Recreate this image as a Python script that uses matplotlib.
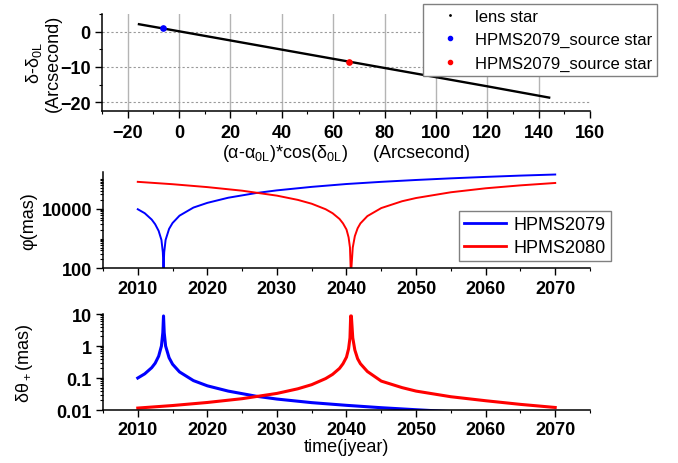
import matplotlib
matplotlib.use("Agg")
import matplotlib.pyplot as plt
import numpy as np
from matplotlib.lines import Line2D
from matplotlib.ticker import MultipleLocator, FixedLocator, FuncFormatter, NullFormatter

plt.rcParams['font.family'] = ['Liberation Sans', 'DejaVu Sans']
plt.rcParams['font.weight'] = 'bold'
plt.rcParams['mathtext.fontset'] = 'custom'
plt.rcParams['mathtext.rm'] = 'Liberation Sans:weight=normal'
plt.rcParams['mathtext.it'] = 'Liberation Sans:italic:weight=normal'
plt.rcParams['mathtext.bf'] = 'Liberation Sans:weight=bold'

# sky track of the lens star (arcsec) and source star positions
lens_x = [-15.6, 0.0, 20.0, 40.0, 60.0, 80.0, 100.0, 120.0, 144.1]
lens_y = [2.1, 0.1, -2.5, -5.1, -7.7, -10.3, -12.9, -15.5, -18.7]
src2079_x, src2079_y = [-6.4], [1.1]
src2080_x, src2080_y = [66.1], [-8.5]

# angular separation phi (mas) vs time
t_2079 = [2010, 2011, 2012, 2012.5, 2013, 2013.4, 2013.6, 2013.7, 2013.8, 2014.0,
          2014.5, 2015, 2016, 2018, 2020, 2023, 2027, 2030, 2035, 2040, 2045,
          2050, 2055, 2060, 2065, 2070]
phi_2079 = [9500, 7000, 4300, 3000, 1800, 900, 350, 100, 350, 900,
            2100, 3300, 5800, 10800, 15500, 23000, 33000, 40500, 53000, 66000, 78000,
            90000, 102000, 114000, 126000, 137000]

t_2080 = [2010, 2015, 2020, 2025, 2030, 2033, 2035, 2037, 2038, 2039, 2039.5,
          2040, 2040.3, 2040.5, 2040.6, 2040.7, 2040.9, 2041.2, 2041.6, 2042, 2043,
          2045, 2048, 2050, 2055, 2060, 2065, 2070]
phi_2080 = [78000, 65000, 52000, 39500, 27000, 19500, 14500, 9500, 7000, 4500, 3200,
            2000, 1100, 500, 100, 100, 500, 1200, 2200, 3200, 5600,
            10400, 17600, 22500, 35000, 47500, 59500, 71500]

# astrometric shift delta theta_+ (mas) vs time
dth_2079 = [0.10, 0.135, 0.21, 0.29, 0.48, 1.0, 2.6, 8.7, 2.6, 1.0,
            0.43, 0.27, 0.155, 0.083, 0.057, 0.039, 0.027, 0.022, 0.017, 0.0140, 0.0118,
            0.0102, 0.0089, 0.0080, 0.0073, 0.0068]
dth_2080 = [0.0115, 0.0138, 0.0172, 0.0226, 0.033, 0.046, 0.062, 0.096, 0.13, 0.20, 0.28,
            0.45, 0.82, 1.8, 8.7, 8.7, 1.8, 0.75, 0.40, 0.28, 0.16,
            0.080, 0.050, 0.039, 0.026, 0.0195, 0.0150, 0.0120]

x_ticks_sky = [-20, 0, 20, 40, 60, 80, 100, 120, 140, 160]
y_ticks_sky = [-20, -10, 0]
year_ticks = [2010, 2020, 2030, 2040, 2050, 2060, 2070]

label_kw = {'fontsize': 13, 'fontweight': 'normal'}
legend_prop = {'weight': 'normal'}


def style_axes(ax):
    for side in ['top', 'right']:
        ax.spines[side].set_visible(False)
    for side in ['left', 'bottom']:
        ax.spines[side].set_linewidth(1.1)
    ax.tick_params(which='major', direction='out', length=5, width=1.0, pad=3,
                   labelsize=13)
    ax.tick_params(which='minor', direction='out', length=2.5, width=0.8)


fig = plt.figure(figsize=(6.78, 4.64), dpi=100)
ax1 = fig.add_axes([0.1504, 0.7586, 0.7198, 0.2091])
ax2 = fig.add_axes([0.1519, 0.4192, 0.7183, 0.2069])
ax3 = fig.add_axes([0.1519, 0.1142, 0.7183, 0.2069])

# --- sky plane ---
ax1.plot(lens_x, lens_y, '-', color='black', lw=1.7)
ax1.plot(src2079_x, src2079_y, 'o', color='blue', ms=3.8)
ax1.plot(src2080_x, src2080_y, 'o', color='red', ms=3.8)
ax1.set_xlim(-30, 160)
ax1.set_ylim(-22.5, 5)
ax1.xaxis.set_major_locator(FixedLocator(x_ticks_sky))
ax1.xaxis.set_minor_locator(MultipleLocator(10))
ax1.yaxis.set_major_locator(FixedLocator(y_ticks_sky))
ax1.yaxis.set_minor_locator(MultipleLocator(5))
ax1.grid(axis='x', color='#b4b4b4', lw=1.0, ls='-')
ax1.grid(axis='y', color='#9a9a9a', lw=0.8, ls=(0, (2, 2)))
ax1.get_xgridlines()[-1].set_visible(False)
ax1.set_axisbelow(True)
style_axes(ax1)
ax1.tick_params(axis='x', which='major', pad=4)
ax1.set_xlabel(r'(α-α$_{\mathrm{0L}}$)*cos(δ$_{\mathrm{0L}}$)     (Arcsecond)', labelpad=1, **label_kw)
ax1.set_ylabel('δ-δ$_{\\mathrm{0L}}$\n(Arcsecond)', linespacing=1.1, **label_kw)
ax1.yaxis.set_label_coords(-0.082, 0.5)

handles1 = [Line2D([], [], ls='none', marker='.', ms=2, color='black'),
            Line2D([], [], ls='none', marker='o', ms=3, color='blue'),
            Line2D([], [], ls='none', marker='o', ms=3, color='red')]
labels1 = ['lens star', 'HPMS2079_source star', 'HPMS2079_source star']
leg1 = ax1.legend(handles1, labels1, loc='upper left', bbox_to_anchor=(0.658, 1.103),
                  prop=dict(legend_prop, size=12), frameon=True, fancybox=False,
                  edgecolor='#808080', framealpha=1, borderpad=0.3, labelspacing=0.5,
                  handlelength=2.6, handletextpad=0.2, borderaxespad=0)
leg1.get_frame().set_linewidth(1.0)

# --- separation ---
ax2.plot(t_2079, phi_2079, color='blue', lw=1.4, label='HPMS2079')
ax2.plot(t_2080, phi_2080, color='red', lw=1.4, label='HPMS2080')
ax2.set_yscale('log')
ax2.set_xlim(2005, 2075)
ax2.set_ylim(100, 1.6e5)
ax2.xaxis.set_major_locator(FixedLocator(year_ticks))
ax2.xaxis.set_minor_locator(MultipleLocator(5))
ax2.yaxis.set_major_locator(FixedLocator([100, 10000]))
ax2.yaxis.set_minor_locator(FixedLocator([m * 10.0 ** e for e in range(2, 6) for m in range(1, 10)]))
ax2.yaxis.set_major_formatter(FuncFormatter(lambda v, p: '%g' % v))
ax2.yaxis.set_minor_formatter(NullFormatter())
style_axes(ax2)
ax2.set_ylabel('φ(mas)', **label_kw)
ax2.yaxis.set_label_coords(-0.1355, 0.5)
leg2 = ax2.legend(loc='upper left', bbox_to_anchor=(0.731, 0.599),
                  prop=dict(legend_prop, size=13), frameon=True, fancybox=False,
                  edgecolor='#808080', framealpha=1, borderpad=0.3, labelspacing=0.3,
                  handlelength=2.3, handletextpad=0.4, borderaxespad=0)
leg2.get_frame().set_linewidth(1.0)
for ln in leg2.get_lines():
    ln.set_linewidth(2.0)

# --- astrometric shift ---
ax3.plot(t_2079, dth_2079, color='blue', lw=2.2)
ax3.plot(t_2080, dth_2080, color='red', lw=2.2)
ax3.set_yscale('log')
ax3.set_xlim(2005, 2075)
ax3.set_ylim(0.01, 10)
ax3.xaxis.set_major_locator(FixedLocator(year_ticks))
ax3.xaxis.set_minor_locator(MultipleLocator(5))
ax3.yaxis.set_major_locator(FixedLocator([0.01, 0.1, 1, 10]))
ax3.yaxis.set_minor_locator(FixedLocator([m * 10.0 ** e for e in range(-2, 1) for m in range(2, 10)]))
ax3.yaxis.set_major_formatter(FuncFormatter(lambda v, p: '%g' % v))
ax3.yaxis.set_minor_formatter(NullFormatter())
style_axes(ax3)
ax3.set_ylabel('δθ$_+$(mas)', **label_kw)
ax3.yaxis.set_label_coords(-0.14, 0.5)
ax3.set_xlabel('time(jyear)', labelpad=0, **label_kw)

fig.savefig('out.png', dpi=100)
